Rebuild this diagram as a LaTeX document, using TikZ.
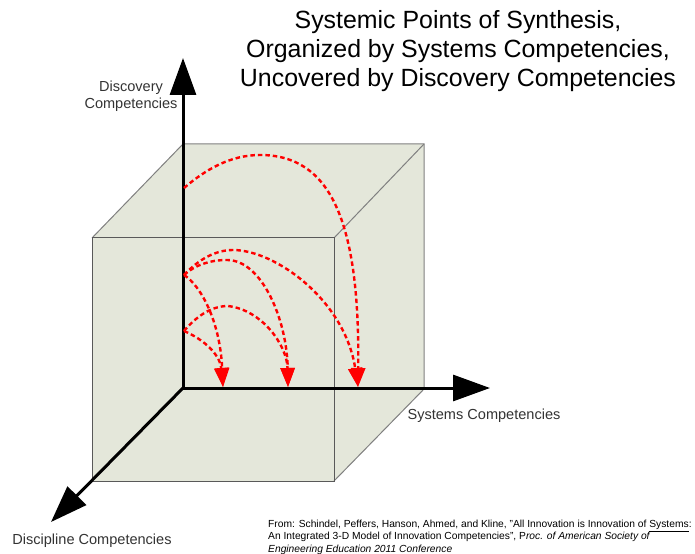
\documentclass[tikz,border=0pt]{standalone}
\usepackage{fontspec}
\setmainfont{Liberation Sans}
\usetikzlibrary{arrows.meta}
\definecolor{cubefill}{HTML}{E4E7DA}
\begin{document}
\begin{tikzpicture}[x=1bp, y=-1bp,
    axis/.style={line width=3bp, -{Triangle[length=37bp, width=26bp]}},
    synth/.style={red, line width=2.4bp, dash pattern=on 4.5bp off 3bp, -{Triangle[length=19bp, width=14bp]}},
    edge/.style={draw=black!50, line width=1bp},
    axislabel/.style={text=black!80, font=\fontsize{14.6}{17}\selectfont, align=center, inner sep=0pt}]
    \useasboundingbox (0,0) rectangle (695,554);
    \coordinate (b1) at (183,144);
    \coordinate (b2) at (424,144);
    \coordinate (b3) at (424,389);
    \coordinate (f1) at (92,238);
    \coordinate (f2) at (334,238);
    \coordinate (f3) at (334,481);
    \coordinate (f4) at (92,481);
    \fill[cubefill] (f4) -- (f1) -- (b1) -- (b2) -- (b3) -- (f3) -- cycle;
    \draw[edge] (f1) -- (b1) -- (b2) -- (b3) -- (f3);
    \draw[edge] (f2) -- (b2);
    \draw[draw=black!65, line width=1bp] (f1) rectangle (f3);

    \coordinate (O) at (183,388);
    \coordinate (up) at (183,58);
    \coordinate (right) at (490,388);
    \coordinate (down) at (51,522);
    \draw[axis] (O) -- (up);
    \draw[axis] (O) -- (right);
    \draw[axis] (O) -- (down);

    \coordinate (d1) at (184,188);
    \coordinate (d2) at (184,275);
    \coordinate (d3) at (184,331);
    \coordinate (s1) at (223,387);
    \coordinate (s2) at (288,387);
    \coordinate (s3) at (358,387);
    \draw[synth] (d1) .. controls (205,170) and (230,155) .. (260,155)
        .. controls (330,155) and (360,220) .. (s3);
    \draw[synth] (d2) .. controls (198,260) and (215,250) .. (233,250)
        .. controls (275,250) and (345,300) .. (s3);
    \draw[synth] (d2) .. controls (195,265) and (210,260) .. (227,260)
        .. controls (262,260) and (287,320) .. (s2);
    \draw[synth] (d2) .. controls (200,285) and (220,320) .. (s1);
    \draw[synth] (d3) .. controls (195,318) and (210,306) .. (228,306)
        .. controls (262,310) and (287,345) .. (s2);
    \draw[synth] (d3) .. controls (205,340) and (220,355) .. (s1);

    \node[axislabel] (discovery) at (131,96) {Discovery\\Competencies};
    \node[axislabel] (systems) at (484,416) {Systems Competencies};
    \node[axislabel] (discipline) at (92,541) {Discipline Competencies};
    \node[align=center, inner sep=0pt, font=\fontsize{25}{29}\selectfont] (title) at (458,51)
        {Systemic Points of Synthesis,\\Organized by Systems Competencies,\\Uncovered by Discovery Competencies};
    \node[anchor=west, align=left, inner sep=0pt, font=\fontsize{10.3}{12.5}\selectfont] (source) at (268,537)
        {From: Schindel, Peffers, Hanson, Ahmed, and Kline, "All Innovation is Innovation of \underline{Systems}:\\
         An Integrated 3-D Model of Innovation Competencies", P\textit{roc. of American Society of}\\
         \textit{Engineering Education 2011 Conference}};
\end{tikzpicture}
\end{document}
